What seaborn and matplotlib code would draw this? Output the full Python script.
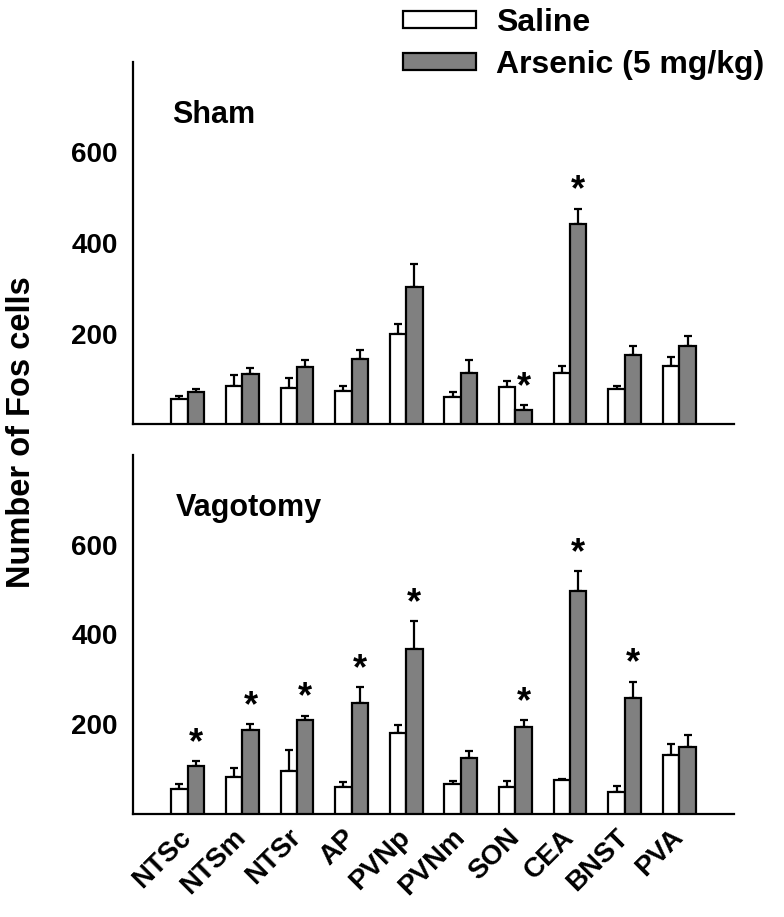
import numpy as np
import pandas as pd
import matplotlib
matplotlib.use("Agg")
import matplotlib.pyplot as plt
from matplotlib.patches import Patch
import seaborn as sns

# ---------------- data ----------------
regions = ["NTSc", "NTSm", "NTSr", "AP", "PVNp", "PVNm", "SON", "CEA", "BNST", "PVA"]
treatments = ["Saline", "Arsenic (5 mg/kg)"]

sham_saline = [55, 83, 79, 74, 198, 59, 82, 113, 77, 128]
sham_saline_err = [6, 25, 22, 11, 22, 11, 14, 16, 8, 21]
sham_arsenic = [71, 110, 127, 144, 303, 112, 31, 441, 153, 172]
sham_arsenic_err = [6, 14, 14, 20, 50, 29, 11, 35, 19, 22]

vag_saline = [55, 83, 96, 60, 181, 67, 60, 75, 50, 131]
vag_saline_err = [12, 20, 47, 12, 17, 7, 13, 4, 12, 25]
vag_arsenic = [106, 187, 209, 248, 367, 124, 194, 498, 258, 149]
vag_arsenic_err = [12, 14, 10, 34, 62, 16, 15, 43, 37, 26]

sham_sig = [0, 0, 0, 0, 0, 0, 1, 1, 0, 0]
vag_sig = [1, 1, 1, 1, 1, 0, 1, 1, 1, 0]

panel_titles = ["Sham", "Vagotomy"]
yticks = [200, 400, 600]

# ---------------- style ----------------
sns.set_style("white")
plt.rcParams["font.family"] = ["Liberation Sans", "DejaVu Sans"]
plt.rcParams["font.weight"] = "bold"
for k in ["text.color", "axes.labelcolor", "xtick.color", "ytick.color", "axes.edgecolor"]:
    plt.rcParams[k] = "black"

colors = {"Saline": "white", "Arsenic (5 mg/kg)": "#808080"}
TICK_FS = 20
LABEL_FS = 22

fig = plt.figure(figsize=(7.84, 9.17), dpi=100)
W, H = 784, 917
left, right = 133 / W, 734 / W
ax1 = fig.add_axes([left, 1 - 424 / H, right - left, (424 - 62) / H])
ax2 = fig.add_axes([left, 1 - 814 / H, right - left, (814 - 455) / H])

panels = [
    (ax1, sham_saline, sham_saline_err, sham_arsenic, sham_arsenic_err, sham_sig, panel_titles[0], -0.29),
    (ax2, vag_saline, vag_saline_err, vag_arsenic, vag_arsenic_err, vag_sig, panel_titles[1], -0.22),
]

for ax, sal, sal_e, ars, ars_e, sig, title, tx in panels:
    df = pd.DataFrame({
        "region": regions * 2,
        "count": sal + ars,
        "treatment": [treatments[0]] * len(regions) + [treatments[1]] * len(regions),
    })
    sns.barplot(data=df, x="region", y="count", hue="treatment", order=regions,
                hue_order=treatments, palette=colors, edgecolor="black",
                linewidth=1.6, width=0.6, errorbar=None, legend=False, ax=ax, zorder=3)
    errs = [sal_e, ars_e]
    bar_conts = list(ax.containers)
    for ci, cont in enumerate(bar_conts):
        xs = np.array([p.get_x() + p.get_width() / 2 for p in cont.patches])
        tops = np.array([p.get_height() for p in cont.patches])
        e = np.array(errs[ci])
        ax.errorbar(xs, tops, yerr=[np.zeros_like(e), e], fmt="none", ecolor="black",
                    elinewidth=1.6, capsize=3, capthick=1.6, zorder=2)
        if ci == 1:
            for x, t, ee, s in zip(xs, tops, e, sig):
                if s:
                    ax.text(x, t + ee + 18, "*", ha="center", va="baseline",
                            fontsize=26, fontweight="bold")
    ax.set_xlim(-1, 10)
    ax.set_ylim(0, 800)
    ax.set_yticks(yticks)
    ax.set_yticklabels([str(v) for v in yticks], fontsize=TICK_FS, fontweight="bold")
    ax.tick_params(axis="y", length=0, pad=11)
    ax.set_xlabel("")
    ax.set_ylabel("")
    for sp in ["top", "right"]:
        ax.spines[sp].set_visible(False)
    for sp in ["left", "bottom"]:
        ax.spines[sp].set_linewidth(1.6)
        ax.spines[sp].set_color("black")
    ax.text(tx, 683, title, ha="left", va="center", fontsize=LABEL_FS, fontweight="bold")

ax1.set_xticks(range(len(regions)))
ax1.set_xticklabels([])
ax1.tick_params(axis="x", length=0)

ax2.set_xticks(range(len(regions)))
ax2.set_xticklabels(regions, rotation=45, ha="right", va="center", rotation_mode="anchor",
                    fontsize=TICK_FS, fontweight="bold")
ax2.tick_params(axis="x", length=0, pad=14)

fig.text(22 / W, 1 - 432 / H, "Number of Fos cells", rotation=90, ha="center", va="center",
         fontsize=23.5, fontweight="bold")

handles = [Patch(facecolor=colors[t], edgecolor="black", linewidth=1.6, label=t) for t in treatments]
fig.legend(handles=handles, loc="upper left", bbox_to_anchor=(403 / W, 1 - 8 / H),
           frameon=False, handlelength=2.3, handleheight=0.42, handletextpad=0.6,
           labelspacing=0.38, borderpad=0, borderaxespad=0,
           prop={"size": 23, "weight": "bold"})

fig.savefig("out.png", dpi=100)
